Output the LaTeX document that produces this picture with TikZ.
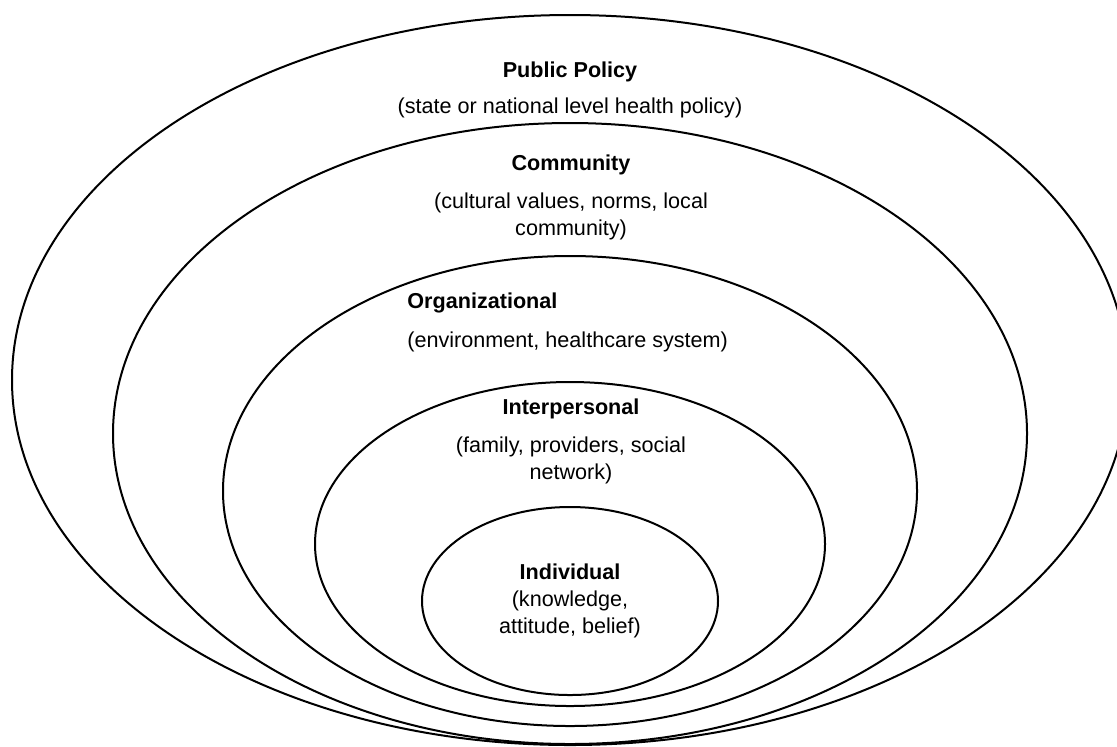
\documentclass[tikz,border=0pt]{standalone}
\usepackage{fontspec}
\setmainfont{Liberation Sans}

\begin{document}
\begin{tikzpicture}[x=0.5pt, y=-0.5pt]

\tikzset{ring/.style={line width=1pt, black}}
\tikzset{title/.style={font=\fontsize{10.8}{13.5}\selectfont\bfseries, inner sep=0pt}}
\tikzset{note/.style={font=\fontsize{10.8}{13.5}\selectfont, align=center, inner sep=0pt}}

\useasboundingbox (0,0) rectangle (1117,746);

% nested levels, outer to inner
\draw[ring] (570,380)   ellipse [x radius=558, y radius=365];
\draw[ring] (570,433.5) ellipse [x radius=457, y radius=310.5];
\draw[ring] (570,491)   ellipse [x radius=347, y radius=235];
\draw[ring] (570,544)   ellipse [x radius=255, y radius=162];
\draw[ring] (570,601)   ellipse [x radius=148, y radius=94];

\node[title] (policy) at (570,72) {Public Policy};
\node[note] (policynote) at (570,108) {(state or national level health policy)};

\node[title] (community) at (571,165) {Community};
\node[note] (communitynote) at (571,216) {(cultural values, norms, local\\community)};

\node[note, anchor=west] (orgnote) at (407,342) {(environment, healthcare system)};
\node[title, anchor=west] (org) at (orgnote.west |- 0,303) {Organizational};

\node[title] (inter) at (571,409) {Interpersonal};
\node[note] (internote) at (571,460) {(family, providers, social\\network)};

\node[note] (indiv) at (570,601) {\textbf{Individual}\\(knowledge,\\attitude, belief)};

\end{tikzpicture}
\end{document}
